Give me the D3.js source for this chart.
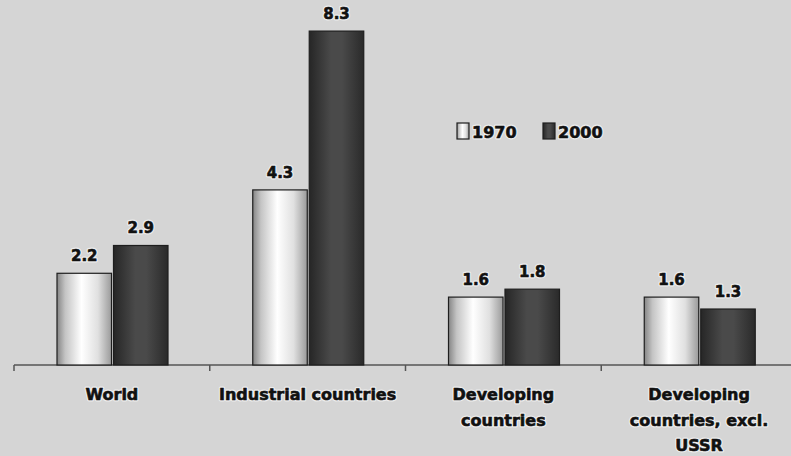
<!DOCTYPE html>
<html><head><meta charset="utf-8">
<script src="https://cdn.jsdelivr.net/npm/d3@7"></script>
<style>
html,body{margin:0;padding:0;background:#d5d5d5;}
svg{display:block;}
text{font-family:"DejaVu Sans",sans-serif;font-weight:bold;}
</style></head>
<body>
<svg id="c" width="791" height="456"></svg>
<script>
const categories = ["World", "Industrial countries", "Developing countries", "Developing countries, excl. USSR"];
const categoryLines = [["World"], ["Industrial countries"], ["Developing", "countries"], ["Developing", "countries, excl.", "USSR"]];
const seriesNames = ["1970", "2000"];
const values1970 = [2.2, 4.3, 1.6, 1.6];
const values2000 = [2.9, 8.3, 1.8, 1.3];
const labels1970 = ["2.2", "4.3", "1.6", "1.6"];
const labels2000 = ["2.9", "8.3", "1.8", "1.3"];

const W = 791, H = 456;
const svg = d3.select("#c");
svg.append("rect").attr("width", W).attr("height", H).attr("fill", "#d5d5d5");

const defs = svg.append("defs");
const g1 = defs.append("linearGradient").attr("id", "gLight").attr("x1", "0").attr("x2", "1").attr("y1", "0").attr("y2", "0");
[[0, "#858585"], [0.15, "#c4c4c4"], [0.45, "#ffffff"], [0.75, "#e0e0e0"], [1, "#9a9a9a"]].forEach(s => g1.append("stop").attr("offset", s[0]).attr("stop-color", s[1]));
const g2 = defs.append("linearGradient").attr("id", "gDark").attr("x1", "0").attr("x2", "1").attr("y1", "0").attr("y2", "0");
[[0, "#262626"], [0.4, "#4a4a4a"], [0.6, "#4a4a4a"], [1, "#2a2a2a"]].forEach(s => g2.append("stop").attr("offset", s[0]).attr("stop-color", s[1]));

const x = d3.scaleBand().domain(categories).range([14, 797]).paddingInner(0).paddingOuter(0);
const x1 = d3.scaleBand().domain(seriesNames).range([43, 154]).paddingInner(0.035).paddingOuter(0);
const y = d3.scaleLinear().domain([-0.11, 9]).range([365, 3.3]);

// text helper: light halo + heavy dark text
function heavyText(parent, xPos, yPos, size, lines, anchor, lh) {
  [["#ededed", 3], ["#111", 0.6]].forEach(([col, sw]) => {
    const t = parent.append("text").attr("text-anchor", anchor).attr("font-size", size)
      .attr("fill", "#111").attr("stroke", col).attr("stroke-width", sw).attr("stroke-linejoin", "round");
    lines.forEach((ln, j) => t.append("tspan").attr("x", xPos).attr("y", yPos + j * lh).text(ln));
  });
}

// axis line and ticks
const axis = d3.axisBottom(x).tickSize(0).tickFormat("");
const ag = svg.append("g").attr("transform", "translate(0,365)").call(axis);
ag.select(".domain").attr("stroke", "#555").attr("stroke-width", 1.5).attr("d", "M14,0H791");
ag.selectAll(".tick").remove();
categories.forEach(c => {
  ag.append("line").attr("x1", x(c)).attr("x2", x(c)).attr("y1", 0).attr("y2", 6).attr("stroke", "#555").attr("stroke-width", 1.5);
});

const series = [
  {name: "1970", vals: values1970, labels: labels1970, fill: "url(#gLight)"},
  {name: "2000", vals: values2000, labels: labels2000, fill: "url(#gDark)"}
];

series.forEach(s => {
  const gs = svg.append("g");
  gs.selectAll("rect").data(categories).join("rect")
    .attr("x", (c) => x(c) + x1(s.name))
    .attr("width", x1.bandwidth())
    .attr("y", (c, i) => y(s.vals[i]))
    .attr("height", (c, i) => y(-0.11) - y(s.vals[i]))
    .attr("fill", s.fill)
    .attr("stroke", "#1e1e1e").attr("stroke-width", 1.2);
  categories.forEach((c, i) => {
    heavyText(gs, x(c) + x1(s.name) + x1.bandwidth() / 2, y(s.vals[i]) - 12, 15, [s.labels[i]], "middle", 0);
  });
});

// category labels
categories.forEach((c, i) => {
  heavyText(svg, x(c) + x.bandwidth() / 2, 400, 16, categoryLines[i], "middle", 25.5);
});

// legend
const lg = svg.append("g");
const legendX = [457, 543];
series.forEach((s, i) => {
  lg.append("rect").attr("x", legendX[i]).attr("y", 123).attr("width", 12).attr("height", 16)
    .attr("fill", s.fill).attr("stroke", "#1e1e1e").attr("stroke-width", 1.2);
  heavyText(lg, legendX[i] + 15, 138, 16, [s.name], "start", 0);
});
</script>
</body></html>
